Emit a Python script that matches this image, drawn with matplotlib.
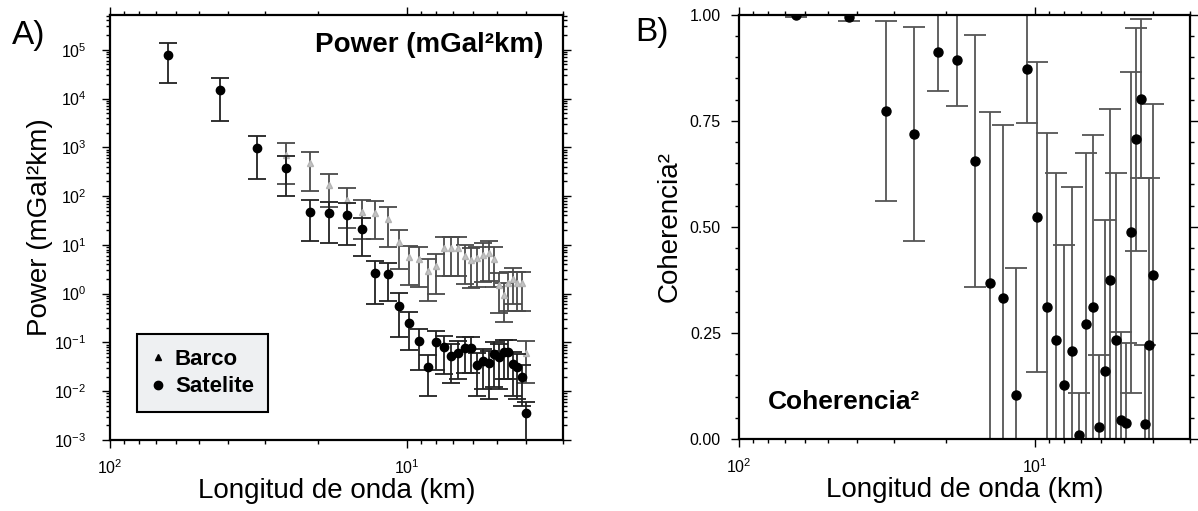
import numpy as np
import matplotlib
matplotlib.use('Agg')
import matplotlib.pyplot as plt
from matplotlib.lines import Line2D
from matplotlib.ticker import LogLocator, NullFormatter, MultipleLocator

plt.rcParams['font.family'] = 'Liberation Sans'
plt.rcParams['mathtext.fontset'] = 'custom'
plt.rcParams['mathtext.rm'] = 'Liberation Sans'
plt.rcParams['mathtext.bf'] = 'Liberation Sans:bold'

# wavelengths (km)
wavelength = [64, 42.7, 32, 25.6, 21.3, 18.3, 16, 14.2, 12.8, 11.6, 10.7, 9.85, 9.14,
              8.53, 8.0, 7.53, 7.11, 6.74, 6.4, 6.1, 5.82, 5.57, 5.33, 5.12, 4.92,
              4.74, 4.57, 4.41, 4.27, 4.13, 4.0]

# A) power spectra
sat_power = [7.9e4, 1.5e4, 960, 385, 47, 44, 41, 21, 2.6, 2.5, 0.57, 0.25, 0.107,
             0.031, 0.101, 0.080, 0.053, 0.062, 0.076, 0.076, 0.034, 0.042, 0.037,
             0.057, 0.051, 0.065, 0.065, 0.036, 0.032, 0.020, 0.0035]
sat_err = [5.8e4, 1.15e4, 740, 285, 35, 33, 31, 15, 2.0, 1.8, 0.44, 0.18, 0.08,
           0.023, 0.074, 0.058, 0.038, 0.044, 0.052, 0.052, 0.026, 0.031, 0.03,
           0.045, 0.04, 0.047, 0.047, 0.028, 0.025, 0.015, 0.0026]

barco_wavelength = wavelength[3:]
barco_power = [700, 473, 170, 84, 48, 46, 34, 11.7, 5.6, 5.2, 2.9, 3.7, 8.5, 8.5,
               8.5, 5.8, 4.9, 5.3, 6.2, 6.8, 5.2, 1.5, 0.94, 1.64, 2.0, 1.64, 1.64, 0.06]
barco_err = [520, 345, 110, 62, 35, 33, 25, 8.5, 4.1, 3.8, 2.2, 2.7, 6.2, 6.2,
             6.2, 4.2, 3.6, 3.9, 4.5, 5.0, 3.8, 1.1, 0.68, 1.2, 1.4, 1.2, 1.2, 0.045]

# B) squared coherence
coherence = [1.0, 0.994, 0.774, 0.719, 0.912, 0.893, 0.656, 0.367, 0.333, 0.104,
             0.872, 0.523, 0.312, 0.233, 0.127, 0.208, 0.009, 0.271, 0.311, 0.028,
             0.160, 0.375, 0.233, 0.045, 0.037, 0.487, 0.707, 0.802, 0.035, 0.222, 0.387]
coherence_err = [0.005, 0.008, 0.212, 0.253, 0.091, 0.107, 0.297, 0.405, 0.408, 0.30,
                 0.127, 0.366, 0.409, 0.395, 0.33, 0.387, 0.099, 0.404, 0.406, 0.17,
                 0.357, 0.403, 0.394, 0.208, 0.19, 0.379, 0.263, 0.187, 0.187, 0.393, 0.403]


def style_axes(ax):
    for s in ax.spines.values():
        s.set_linewidth(1.6)
    ax.set_xscale('log')
    ax.set_xlim(100, 3)
    ax.xaxis.set_minor_formatter(NullFormatter())
    ax.tick_params(which='both', direction='out', top=True, right=True,
                   labeltop=False, labelright=False, labelsize=11.5, width=1)
    ax.tick_params(which='major', length=6)
    ax.tick_params(which='minor', length=3)
    ax.tick_params(axis='x', pad=7)


fig = plt.figure(figsize=(11.98, 5.11), dpi=100)
axA = fig.add_axes([0.0918, 0.139, 0.378, 0.832])
axB = fig.add_axes([0.6169, 0.141, 0.3765, 0.830])

# ---- Panel A
style_axes(axA)
axA.set_yscale('log')
axA.set_ylim(1e-3, 5.2e5)
axA.yaxis.set_major_locator(LogLocator(base=10, numticks=15))
axA.yaxis.set_minor_locator(LogLocator(base=10, subs=np.arange(2, 10), numticks=15))
axA.yaxis.set_minor_formatter(NullFormatter())
axA.tick_params(axis='y', pad=11)

bp = np.array(barco_power)
be = np.array(barco_err)
axA.errorbar(barco_wavelength, bp, yerr=[np.minimum(be, bp * 0.999), be], fmt='^',
             color='#c4c4c4', ms=4.5, mec='#b4b4b4', ecolor='#4a4a4a', elinewidth=1.3,
             capsize=6.5, capthick=1.3, zorder=2)
sp = np.array(sat_power)
se = np.array(sat_err)
axA.errorbar(wavelength, sp, yerr=[np.minimum(se, sp * 0.999), se], fmt='o',
             color='black', ms=6, ecolor='#222222', elinewidth=1.3,
             capsize=6.5, capthick=1.3, zorder=3)

axA.text(0.956, 0.929, 'Power (mGal²km)', transform=axA.transAxes, ha='right',
         va='center', fontsize=20, fontweight='bold')
axA.set_xlabel('Longitud de onda (km)', fontsize=20)
axA.xaxis.set_label_coords(0.5, -0.09)
axA.set_ylabel('Power (mGal²km)', fontsize=20)
axA.yaxis.set_label_coords(-0.125, 0.5)

handles = [Line2D([], [], marker='^', ls='none', color='black', ms=4.5),
           Line2D([], [], marker='o', ls='none', color='black', ms=6)]
leg = axA.legend(handles, ['Barco', 'Satelite'], loc='lower left',
                 bbox_to_anchor=(0.06, 0.066), borderaxespad=0, fancybox=False,
                 prop={'weight': 'bold', 'size': 16}, handlelength=0.6,
                 handletextpad=0.45, labelspacing=0.3, borderpad=0.65, framealpha=1)
leg.get_frame().set_facecolor('#eef0f2')
leg.get_frame().set_edgecolor('black')
leg.get_frame().set_linewidth(1.5)

# ---- Panel B
style_axes(axB)
axB.set_ylim(0, 1)
axB.yaxis.set_major_locator(MultipleLocator(0.25))
axB.yaxis.set_minor_locator(MultipleLocator(0.05))
axB.yaxis.set_major_formatter(matplotlib.ticker.FormatStrFormatter('%.2f'))
axB.tick_params(axis='y', pad=7)

axB.errorbar(wavelength, coherence, yerr=coherence_err, fmt='o', color='black',
             ms=6.5, ecolor='#555555', elinewidth=1.3, capsize=8, capthick=1.3)

axB.text(0.064, 0.087, 'Coherencia²', transform=axB.transAxes, ha='left',
         va='center', fontsize=19, fontweight='bold')
axB.set_xlabel('Longitud de onda (km)', fontsize=20)
axB.xaxis.set_label_coords(0.5, -0.09)
axB.set_ylabel('Coherencia²', fontsize=20)
axB.yaxis.set_label_coords(-0.126, 0.5)

fig.text(0.010, 0.931, 'A)', fontsize=24, ha='left', va='center')
fig.text(0.530, 0.937, 'B)', fontsize=24, ha='left', va='center')

fig.savefig('out.png', dpi=100, facecolor='white')
